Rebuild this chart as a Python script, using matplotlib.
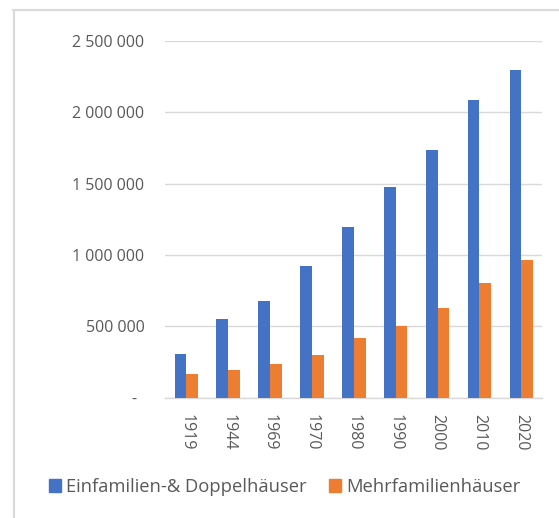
import matplotlib
matplotlib.use("Agg")
import matplotlib.pyplot as plt
from matplotlib.lines import Line2D
from matplotlib.patches import Patch
from matplotlib.transforms import ScaledTranslation
import numpy as np

years = ["1919", "1944", "1969", "1970", "1980", "1990", "2000", "2010", "2020"]
einfamilien = [304000, 549000, 677000, 920000, 1193000, 1475000, 1734000, 2082000, 2296000]
mehrfamilien = [166000, 196000, 236000, 299000, 416000, 500000, 630000, 805000, 966000]
series_names = ["Einfamilien-& Doppelhäuser", "Mehrfamilienhäuser"]
yticks = [0, 500000, 1000000, 1500000, 2000000, 2500000]

blue = "#4472C4"
orange = "#ED7D31"
text_col = "#595959"
grid_col = "#D9D9D9"

plt.rcParams["font.family"] = ["Open Sans", "DejaVu Sans"]

W, H = 559, 518
fig = plt.figure(figsize=(W / 100, H / 100), dpi=100)
ax = fig.add_axes([165.3 / W, 1 - 397.7 / H, (542.3 - 165.3) / W, (397.7 - 40.7) / H])

x = np.arange(len(years))
bw = 0.28
ax.bar(x - bw / 2, einfamilien, bw, color=blue, zorder=3)
ax.bar(x + bw / 2, mehrfamilien, bw, color=orange, zorder=3)

ax.set_xlim(-0.5, len(years) - 0.5)
ax.set_ylim(0, 2500000)
ax.set_yticks(yticks)


def fmt(v):
    if v == 0:
        return "-"
    return f"{int(v):,}".replace(",", " ")


ax.set_yticklabels([fmt(v) for v in yticks])
ax.set_xticks(x)
ax.set_xticklabels(years, rotation=-90, va="top", ha="center")

ax.tick_params(axis="y", length=0, pad=15, labelsize=11.5, labelcolor=text_col)
ax.tick_params(axis="x", length=0, pad=12, labelsize=11.5, labelcolor=text_col)

# dash for zero sits a bit left, like the Excel accounting format
lab0 = ax.get_yticklabels()[0]
lab0.set_transform(lab0.get_transform() + ScaledTranslation(-8 / 100, 0, fig.dpi_scale_trans))

ax.grid(axis="y", color=grid_col, linewidth=1.0, zorder=0)
for s in ["top", "right", "left"]:
    ax.spines[s].set_visible(False)
ax.spines["bottom"].set_color(grid_col)
ax.spines["bottom"].set_linewidth(1.0)

handles = [Patch(color=blue), Patch(color=orange)]
fig.legend(handles, series_names, loc="center", bbox_to_anchor=(284.5 / W, 1 - 487 / H),
           ncol=2, frameon=False, fontsize=13.2, labelcolor=text_col,
           handlelength=0.65, handleheight=0.65, handletextpad=0.3, columnspacing=1.2)

# chart frame (left and top edges visible)
fig.add_artist(Line2D([14 / W, 14 / W], [0, 1 - 9.8 / H], color=grid_col, linewidth=1.5,
                      transform=fig.transFigure))
fig.add_artist(Line2D([13.3 / W, 1], [1 - 9.8 / H, 1 - 9.8 / H], color=grid_col, linewidth=1.5,
                      transform=fig.transFigure))

fig.savefig("out.png", dpi=100)
